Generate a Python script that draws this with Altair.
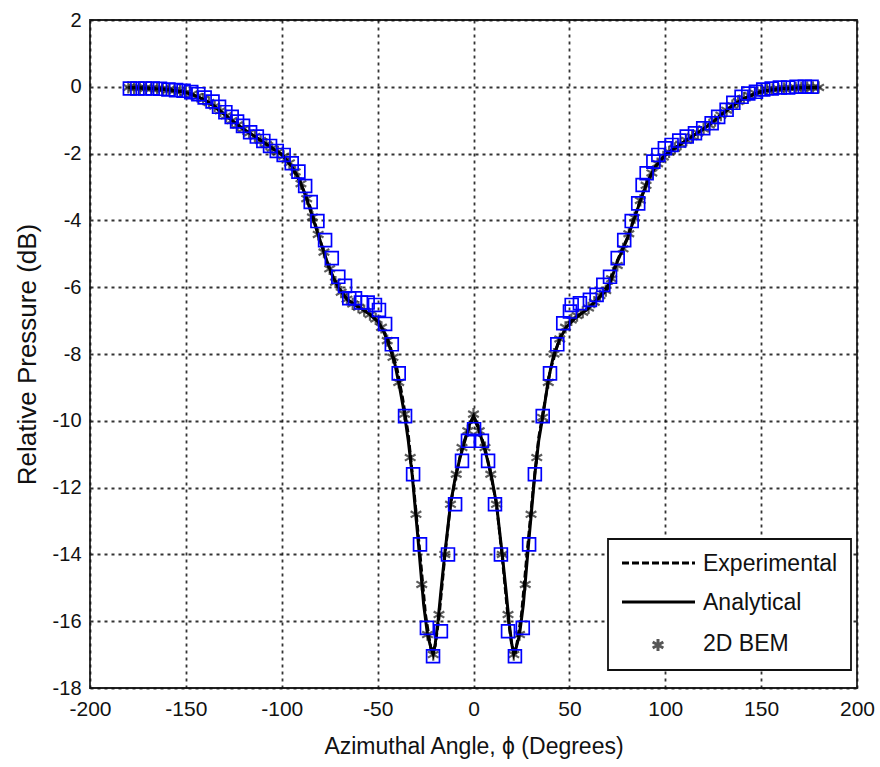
import altair as alt
import pandas as pd

FONT = "Liberation Sans"

# ---------------- data ----------------
# blue open squares (no legend entry)
square_angle = [-179.2, -175.3, -171.3, -167.3, -163.5, -159.1, -155.1, -151.2, -147.2, -143.5,
                -140.2, -136.1, -132.7, -129.4, -126.1, -123.3, -120.2, -116.5, -113.0, -109.6,
                -106.1, -102.6, -99.0, -94.8, -91.3, -87.8, -84.9, -81.4, -77.4, -73.9,
                -70.5, -67.0, -64.8, -61.8, -58.7, -55.2, -51.4, -49.3, -46.1, -42.6,
                -39.0, -35.7, -31.5, -27.9, -24.3, -21.1, -17.0, -13.3, -9.6, -6.0,
                -2.9, 0.3, 4.4, 7.6, 11.2, 14.3, 18.0, 21.6, 25.7, 29.0,
                32.0, 36.1, 39.9, 43.7, 46.8, 50.3, 51.2, 55.5, 60.7, 64.2,
                67.7, 71.2, 75.2, 78.6, 82.5, 85.9, 88.2, 90.3, 93.8, 96.4,
                99.8, 103.3, 107.3, 111.2, 115.5, 119.8, 124.2, 127.6, 132.0, 135.5,
                139.8, 143.3, 147.3, 151.1, 155.5, 159.8, 164.1, 168.5, 172.8, 176.3]
square_value = [-0.05, -0.05, -0.05, -0.05, -0.06, -0.08, -0.10, -0.12, -0.16, -0.22,
                -0.32, -0.44, -0.60, -0.76, -0.90, -1.04, -1.17, -1.36, -1.49, -1.62,
                -1.77, -1.92, -2.04, -2.29, -2.54, -2.97, -3.45, -4.02, -4.59, -5.13,
                -5.69, -5.96, -6.33, -6.33, -6.46, -6.46, -6.53, -6.68, -7.10, -7.71,
                -8.58, -9.86, -11.6, -13.7, -16.2, -17.05, -16.3, -14.0, -12.5, -11.2,
                -10.6, -10.25, -10.6, -11.2, -12.5, -14.0, -16.3, -17.05, -16.2, -13.7,
                -11.6, -9.86, -8.58, -7.71, -7.08, -6.73, -6.53, -6.48, -6.38, -6.23,
                -5.93, -5.69, -5.13, -4.59, -4.02, -3.49, -2.94, -2.59, -2.24, -2.04,
                -1.84, -1.74, -1.61, -1.49, -1.39, -1.24, -1.09, -0.90, -0.69, -0.48,
                -0.30, -0.20, -0.15, -0.08, -0.05, -0.02, -0.02, 0.0, 0.0, 0.0]

# Analytical (solid line)
analytical_angle = [-180, -170, -160, -152, -146, -140, -135, -130, -125, -120,
                    -115, -110, -105, -100, -95, -91, -87, -84, -80, -76,
                    -73, -70, -66, -62, -58, -54, -50, -47, -44, -41,
                    -38.5, -36, -34, -32, -29, -26, -24, -22, -21, -20,
                    -18.5, -17, -15, -12, -9.5, -7, -4, -2, 0, 2,
                    4, 7, 9.5, 12, 15, 17, 18.5, 20, 21, 22,
                    24, 26, 29, 32, 34, 36.4, 39, 41.6, 45, 48.6,
                    53.8, 59, 64, 69.5, 72, 74.7, 79.9, 84.2, 88, 91,
                    95, 100, 105, 110, 115, 120, 125, 130, 135, 140,
                    146, 152, 160, 170, 180]
analytical_value = [-0.03, -0.04, -0.08, -0.14, -0.24, -0.40, -0.58, -0.82, -1.05, -1.26,
                    -1.45, -1.64, -1.84, -2.02, -2.36, -2.75, -3.35, -3.90, -4.60, -5.30,
                    -5.72, -6.05, -6.36, -6.52, -6.66, -6.82, -7.02, -7.30, -7.75, -8.30,
                    -9.00, -9.80, -10.6, -11.6, -13.5, -15.5, -16.4, -16.85, -17.0, -16.7,
                    -16.0, -15.1, -14.0, -12.5, -11.7, -11.1, -10.5, -10.1, -9.85, -10.1,
                    -10.5, -11.1, -11.7, -12.5, -14.0, -15.1, -16.0, -16.7, -17.0, -16.85,
                    -16.4, -15.5, -13.5, -11.6, -10.6, -9.78, -8.78, -8.08, -7.55, -7.18,
                    -6.88, -6.68, -6.40, -6.08, -5.75, -5.28, -4.59, -3.89, -3.25, -2.80,
                    -2.38, -2.04, -1.84, -1.64, -1.45, -1.26, -1.05, -0.80, -0.56, -0.38,
                    -0.22, -0.12, -0.06, -0.03, -0.02]

# Experimental (dashed line)
experimental_angle = [-180, -170, -160, -150, -140, -130, -120, -110, -100, -95,
                      -90, -85, -80, -75, -70, -65, -60, -55, -50, -45,
                      -40, -37, -34, -31, -28, -25, -22, -20, -18, -15,
                      -12, -9, -6, -3, 0, 3, 6, 9, 12, 15,
                      18, 20, 22, 25, 28, 31, 34, 37, 40, 45,
                      50, 55, 60, 65, 70, 75, 80, 85, 90, 95,
                      100, 110, 120, 130, 140, 150, 160, 170, 180]
experimental_value = [-0.02, -0.04, -0.08, -0.16, -0.40, -0.82, -1.27, -1.64, -2.03, -2.38,
                      -2.90, -3.62, -4.60, -5.50, -6.05, -6.42, -6.58, -6.76, -7.00, -7.50,
                      -8.40, -9.30, -10.4, -12.1, -13.9, -15.8, -16.9, -16.75, -15.9, -14.1,
                      -12.5, -11.6, -10.8, -10.3, -9.9, -10.3, -10.8, -11.6, -12.5, -14.1,
                      -15.9, -16.75, -16.9, -15.8, -13.9, -12.1, -10.5, -9.5, -8.5, -7.5,
                      -7.05, -6.85, -6.62, -6.35, -5.95, -5.20, -4.55, -3.72, -2.92, -2.38,
                      -2.04, -1.64, -1.26, -0.80, -0.38, -0.14, -0.06, -0.03, -0.02]

# 2D BEM (star markers), every 3 degrees from -180 to 180
bem_angle = list(range(-180, 181, 3))
bem_value = [-0.02, -0.03, -0.03, -0.04, -0.05, -0.06, -0.07, -0.09, -0.11, -0.13,
             -0.17, -0.22, -0.29, -0.37, -0.47, -0.58, -0.72, -0.87, -1.01, -1.14,
             -1.26, -1.38, -1.49, -1.61, -1.72, -1.84, -1.95, -2.08, -2.28, -2.55,
             -2.90, -3.35, -3.90, -4.42, -4.95, -5.45, -5.85, -6.15, -6.36, -6.50,
             -6.60, -6.70, -6.82, -6.95, -7.20, -7.60, -8.10, -8.85, -9.80, -11.1,
             -12.8, -14.9, -16.4, -17.0, -15.8, -14.0, -12.5, -11.6, -10.8, -10.3,
             -9.8,
             -10.3, -10.8, -11.6, -12.5, -14.0, -15.8, -17.0, -16.4, -14.9, -12.8,
             -11.1, -9.9, -8.85, -8.0, -7.55, -7.2, -6.98, -6.85, -6.75, -6.62,
             -6.45, -6.25, -6.1, -5.75, -5.35, -4.85, -4.4, -3.92, -3.4, -2.95,
             -2.58, -2.3, -2.1, -1.95, -1.84, -1.72, -1.6, -1.49, -1.38, -1.26,
             -1.14, -1.01, -0.85, -0.7, -0.56, -0.44, -0.34, -0.26, -0.19, -0.14,
             -0.1, -0.08, -0.06, -0.05, -0.04, -0.03, -0.03, -0.02, -0.02, -0.02]

x_ticks = [-200, -150, -100, -50, 0, 50, 100, 150, 200]
y_ticks = [-18, -16, -14, -12, -10, -8, -6, -4, -2, 0, 2]
legend_labels = ["Experimental", "Analytical", "2D BEM"]

STAR = "M0,-1L0,1M-0.87,-0.5L0.87,0.5M-0.87,0.5L0.87,-0.5"

squares = pd.DataFrame({"angle": square_angle, "value": square_value})
analytical = pd.DataFrame({"angle": analytical_angle, "value": analytical_value})
experimental = pd.DataFrame({"angle": experimental_angle, "value": experimental_value})
bem = pd.DataFrame(list(zip(bem_angle, bem_value)), columns=["angle", "value"])
one = pd.DataFrame({"k": [0]})

LABEL = "'' + datum.value"


def X():
    return alt.X("angle:Q", scale=alt.Scale(domain=[-200, 200], nice=False, zero=False),
                 axis=alt.Axis(values=x_ticks, title="Azimuthal Angle, ϕ  (Degrees)",
                               labelExpr=LABEL,
                               labelPadding=10, titlePadding=16, labelFontSize=21,
                               titleFontSize=23))


def Y():
    return alt.Y("value:Q", scale=alt.Scale(domain=[-18, 2], nice=False, zero=False),
                 axis=alt.Axis(values=y_ticks, title="Relative Pressure (dB)",
                               labelExpr=LABEL,
                               labelPadding=9, titlePadding=12, labelFontSize=20,
                               titleFontSize=26))


stars = alt.Chart(bem).mark_point(shape=STAR, filled=False, stroke="#1a1a1a",
                                  strokeWidth=2.2, size=150, opacity=0.7).encode(x=X(), y=Y())
exp_line = alt.Chart(experimental).mark_line(color="black", strokeWidth=2.8,
                                             strokeDash=[7, 3]).encode(x=X(), y=Y())
ana_line = alt.Chart(analytical).mark_line(color="black", strokeWidth=3.0).encode(x=X(), y=Y())
sq = alt.Chart(squares).mark_point(shape="square", filled=False, color="#0000ff",
                                   strokeWidth=1.7, size=165, opacity=1).encode(x=X(), y=Y())

# legend box (drawn manually, in pixel space of the plot area)
leg_box = alt.Chart(one).mark_rect(fill="white", stroke="#111111", strokeWidth=1.8).encode(
    x=alt.value(518), x2=alt.value(761), y=alt.value(519), y2=alt.value(650))
leg_exp = alt.Chart(one).mark_rule(color="black", strokeWidth=2.8, strokeDash=[7, 3]).encode(
    x=alt.value(532), x2=alt.value(605), y=alt.value(543))
leg_ana = alt.Chart(one).mark_rule(color="black", strokeWidth=3).encode(
    x=alt.value(532), x2=alt.value(605), y=alt.value(582))
leg_bem = alt.Chart(one).mark_point(shape=STAR, filled=False, stroke="#111111",
                                    strokeWidth=3, size=150).encode(
    x=alt.value(568), y=alt.value(625))
leg_texts = [
    alt.Chart(one).mark_text(align="left", baseline="middle", font=FONT, fontSize=23,
                             color="#111111").encode(
        x=alt.value(613), y=alt.value(yy), text=alt.value(lbl))
    for lbl, yy in zip(legend_labels, [544, 583, 624])
]

chart = alt.layer(stars, exp_line, ana_line, sq, leg_box, leg_exp, leg_ana, leg_bem,
                  *leg_texts).properties(
    width=767, height=668,
    padding={"left": 90, "top": 20, "right": 23, "bottom": 79},
    autosize="none",
    background="white",
).configure_view(
    stroke="#222222", strokeWidth=1.8
).configure_axis(
    grid=True, gridColor="#111111", gridDash=[3, 4], gridWidth=1.8, gridOpacity=0.85,
    ticks=False, domain=False, labelFont=FONT, titleFont=FONT,
    labelColor="#111111", titleColor="#111111", titleFontWeight="normal",
    labelOverlap=False, labelFlush=False,
)

chart.save("out.html", embed_options={"renderer": "svg", "actions": False})
